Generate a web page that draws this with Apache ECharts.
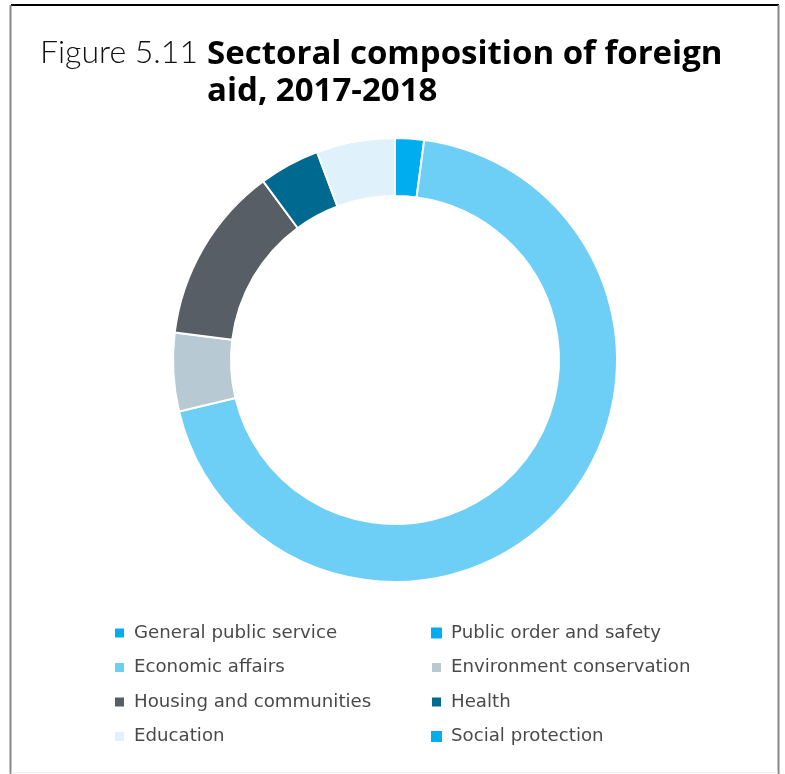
<!DOCTYPE html>
<html>
<head>
<meta charset="utf-8">
<script src="https://cdn.jsdelivr.net/npm/echarts@6/dist/echarts.min.js"></script>
<style>
  html, body { margin: 0; padding: 0; background: #fff; }
  #chart { width: 785px; height: 774px; }
</style>
</head>
<body>
<div id="chart"></div>
<script>
// sectors in legend order, share of aid in %
const sectors = [
  'General public service', 'Public order and safety',
  'Economic affairs', 'Environment conservation',
  'Housing and communities', 'Health',
  'Education', 'Social protection'
];
const shares = [2.1, 0, 69.1, 5.7, 12.9, 4.4, 5.7, 0];
const colors = ['#00AEEF', '#00AEEF', '#6DCFF6', '#B7C9D3', '#575E66', '#00698F', '#DFF1FB', '#00AEEF'];

const leftCol = [sectors[0], sectors[2], sectors[4], sectors[6]];
const rightCol = [sectors[1], sectors[3], sectors[5], sectors[7]];

const myChart = echarts.init(document.getElementById('chart'));

const legendBase = {
  orient: 'vertical',
  top: 623,
  padding: 0,
  itemWidth: 11,
  itemHeight: 11,
  itemGap: 14.5,
  icon: 'rect',
  selectedMode: false,
  textStyle: {
    fontFamily: '"DejaVu Sans", "Open Sans", sans-serif',
    fontSize: 18.2,
    lineHeight: 20,
    color: '#4a4a4a',
    padding: [0, 0, 0, 4]
  }
};

const option = {
  backgroundColor: '#fff',
  title: [
    {
      text: 'Figure 5.11',
      left: 35,
      top: 32,
      padding: 5,
      textStyle: {
        fontFamily: 'Lato, "Open Sans", sans-serif',
        fontWeight: 300,
        fontSize: 32,
        color: '#111'
      }
    },
    {
      text: 'Sectoral composition of foreign\naid, 2017-2018',
      left: 202,
      top: 31,
      padding: 5,
      textStyle: {
        fontFamily: '"Open Sans", Lato, sans-serif',
        fontWeight: 'bold',
        fontSize: 33,
        lineHeight: 37,
        color: '#000'
      }
    }
  ],
  legend: [
    Object.assign({}, legendBase, { left: 113, data: leftCol }),
    Object.assign({}, legendBase, { left: 430, data: rightCol })
  ],
  graphic: [
    { type: 'line', shape: { x1: 11, y1: 5, x2: 779, y2: 5 }, style: { stroke: '#000', lineWidth: 2 } },
    { type: 'line', shape: { x1: 10.5, y1: 5, x2: 10.5, y2: 774 }, style: { stroke: '#888', lineWidth: 2 } },
    { type: 'line', shape: { x1: 778.5, y1: 5, x2: 778.5, y2: 774 }, style: { stroke: '#888', lineWidth: 2 } },
    { type: 'line', shape: { x1: 11, y1: 772.5, x2: 778, y2: 772.5 }, style: { stroke: '#eee', lineWidth: 1 } }
  ],
  series: [
    {
      type: 'pie',
      center: [395, 360],
      radius: [164, 222],
      startAngle: 90,
      clockwise: true,
      avoidLabelOverlap: false,
      label: { show: false },
      labelLine: { show: false },
      emphasis: { disabled: true },
      itemStyle: { borderColor: '#fff', borderWidth: 2 },
      data: sectors.map((name, i) => ({
        name: name,
        value: shares[i],
        itemStyle: shares[i] === 0
          ? { color: colors[i], borderWidth: 0 }
          : { color: colors[i] }
      }))
    }
  ]
};

myChart.setOption(option);
</script>
</body>
</html>
